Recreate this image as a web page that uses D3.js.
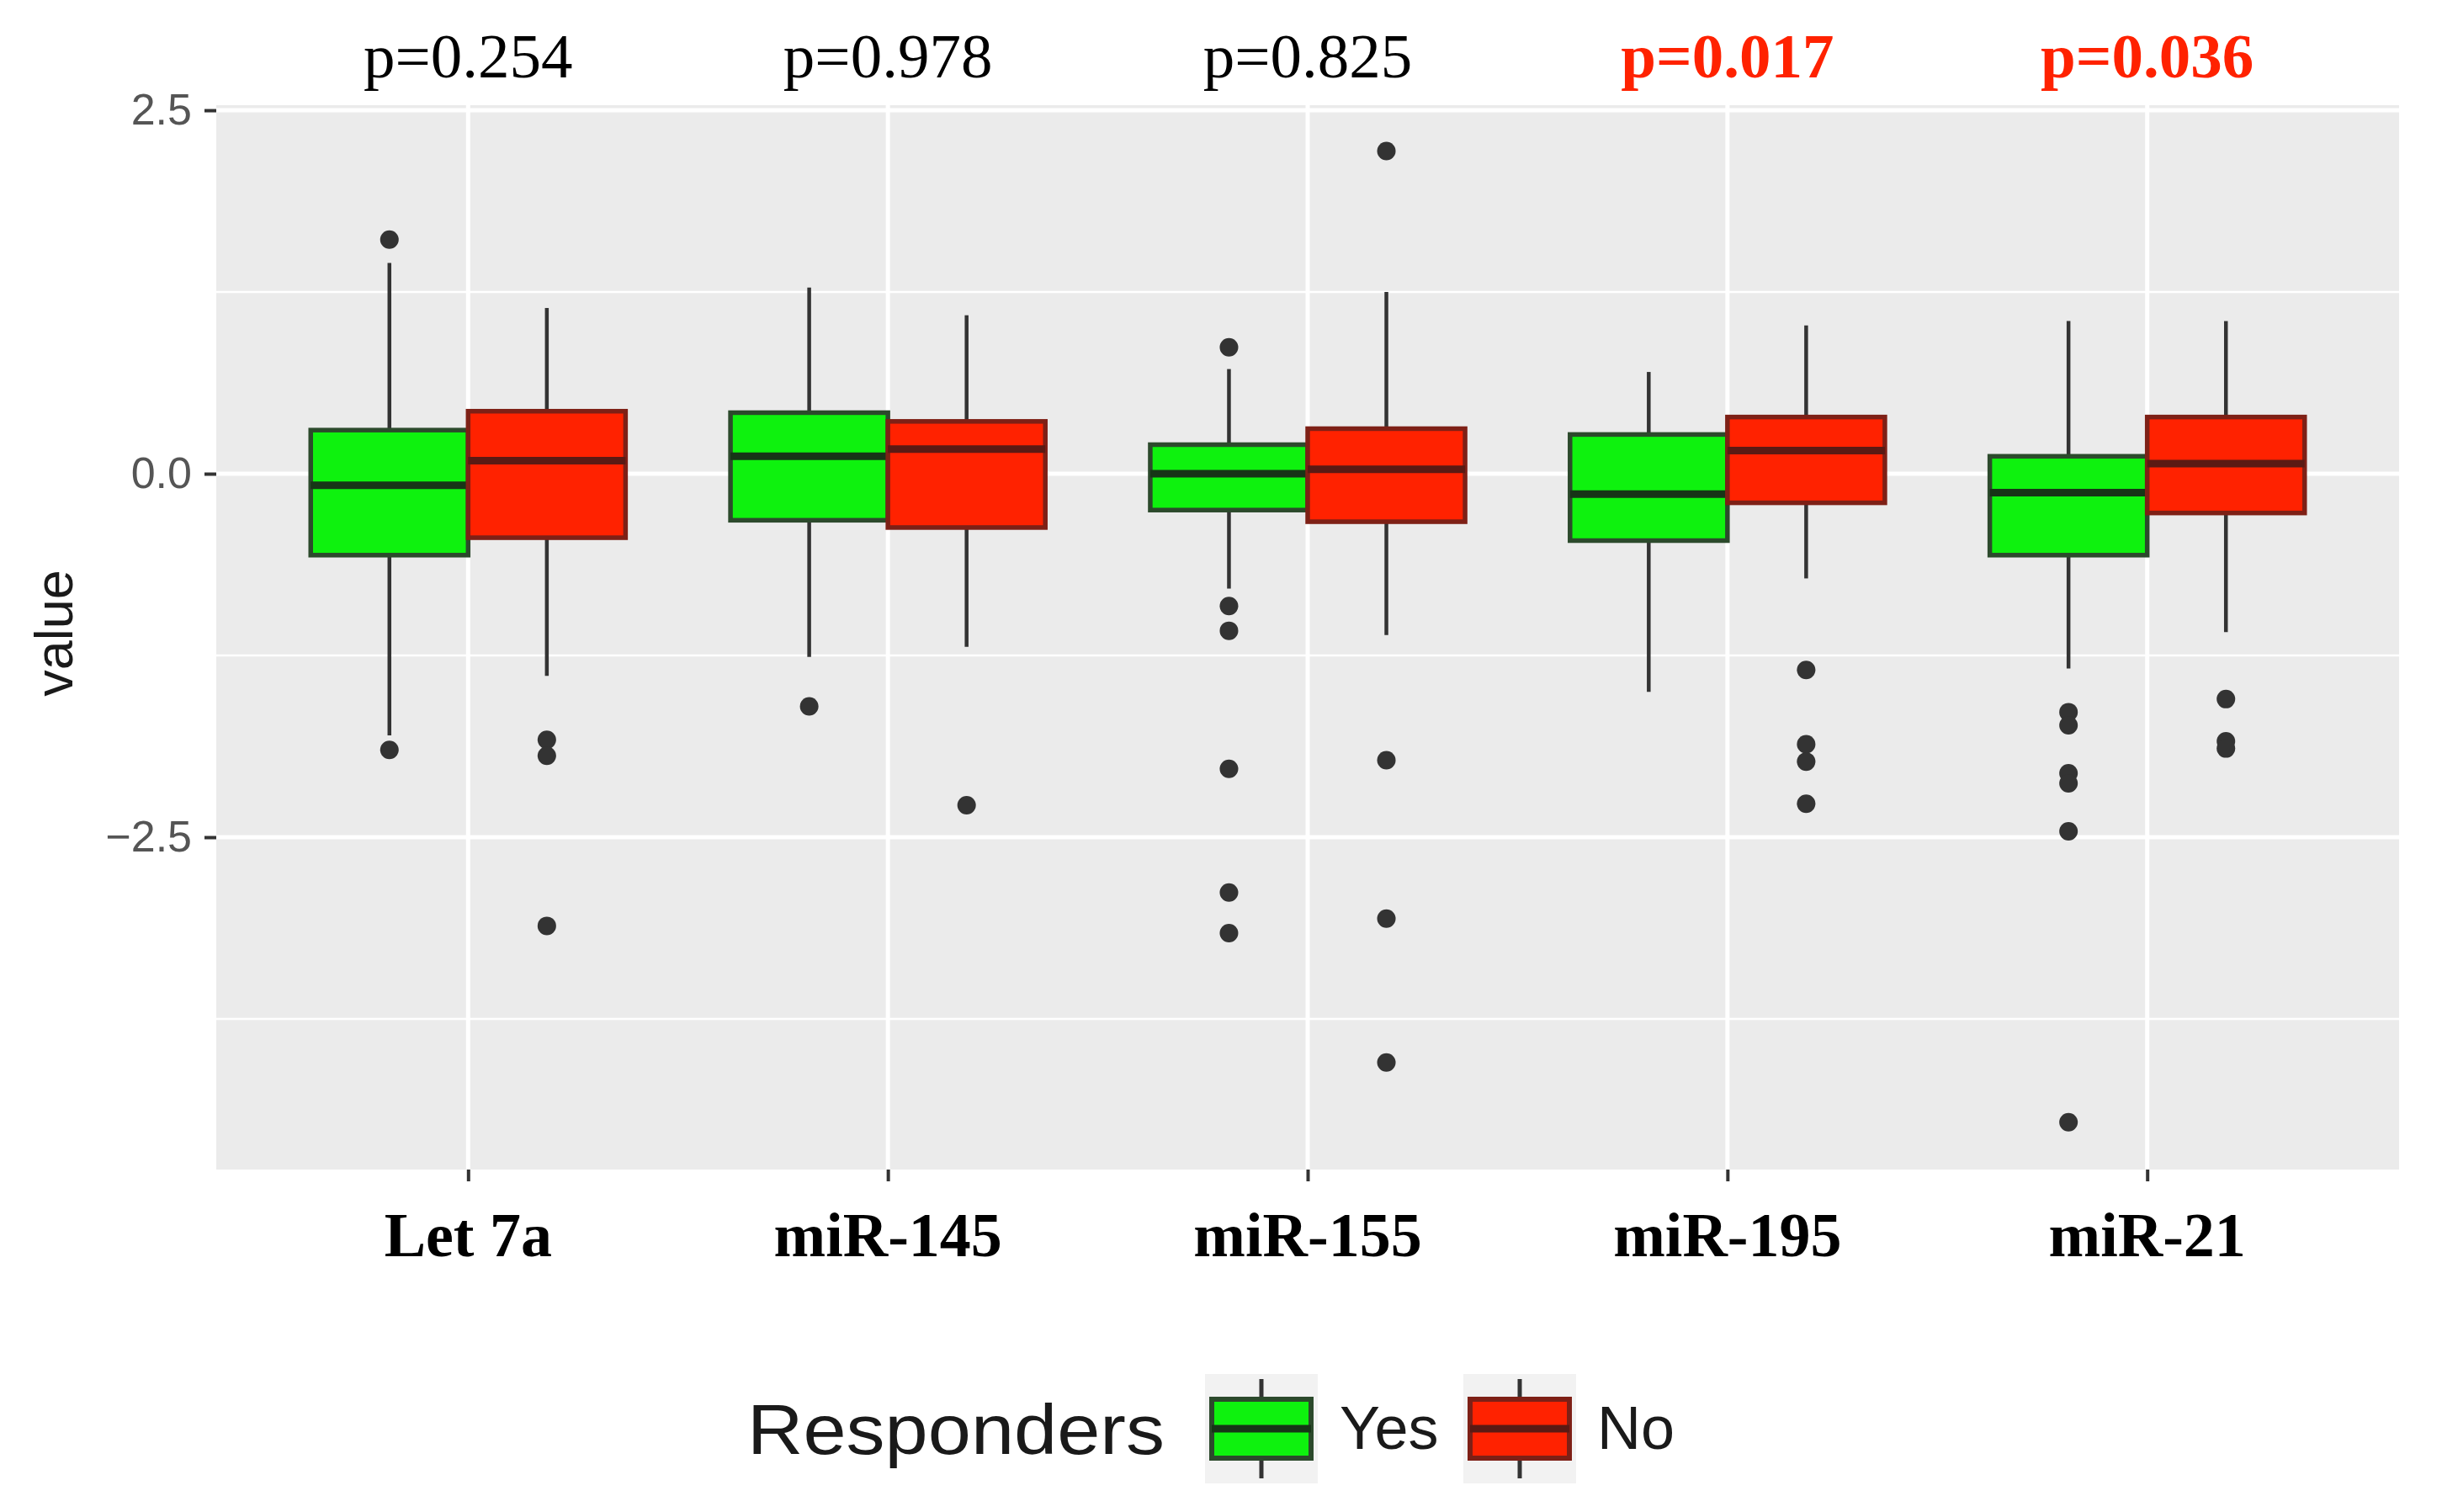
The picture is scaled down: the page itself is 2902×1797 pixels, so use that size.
<!DOCTYPE html>
<html>
<head>
<meta charset="utf-8">
<script src="https://cdn.jsdelivr.net/npm/d3@7"></script>
<style>
  body { margin: 0; background: #fff; }
  svg { display: block; }
</style>
</head>
<body>
<div id="chart"></div>
<script>
// miRNA groups and the p-value printed over each
const genes = ['Let 7a', 'miR-145', 'miR-155', 'miR-195', 'miR-21'];
const pValues = ['p=0.254', 'p=0.978', 'p=0.825', 'p=0.017', 'p=0.036'];
const pSignificant = [false, false, false, true, true];

const groups = ['Yes', 'No'];

// box stats per gene: [lower whisker, q1, median, q3, upper whisker]
const yesStats = [
    [-1.80, -0.56, -0.08, 0.30, 1.45],
    [-1.26, -0.32, 0.12, 0.42, 1.28],
    [-0.79, -0.25, 0.00, 0.20, 0.72],
    [-1.50, -0.46, -0.14, 0.27, 0.70],
    [-1.34, -0.56, -0.13, 0.12, 1.05]
];
const noStats = [
    [-1.39, -0.44, 0.09, 0.43, 1.14],
    [-1.19, -0.37, 0.17, 0.36, 1.09],
    [-1.11, -0.33, 0.03, 0.31, 1.25],
    [-0.72, -0.20, 0.16, 0.39, 1.02],
    [-1.09, -0.27, 0.07, 0.39, 1.05]
];
const yesOutliers = [
    [1.61, -1.90],
    [-1.60],
    [0.87, -0.91, -1.08, -2.03, -2.88, -3.16],
    [],
    [-1.64, -1.73, -2.06, -2.13, -2.46, -4.46]
];
const noOutliers = [
    [-1.83, -1.94, -3.11],
    [-2.28],
    [2.22, -1.97, -3.06, -4.05],
    [-1.35, -1.86, -1.98, -2.27],
    [-1.55, -1.84, -1.89]
];

const yTicks = [-2.5, 0, 2.5];
const yMinor = [-3.75, -1.25, 1.25];

const width = 2902, height = 1797;
const panel = {left: 257, right: 2851, top: 125, bottom: 1390};

const fills = {Yes: '#0ef20e', No: '#ff2200'};
const strokes = {Yes: '#2c4a2c', No: '#7e2016'};
const medians = {Yes: '#173517', No: '#5a1a14'};

const svg = d3.select('#chart').append('svg')
    .attr('width', width)
    .attr('height', height);

const xScale = d3.scalePoint()
    .domain(genes)
    .range([panel.left, panel.right])
    .padding(0.6);

const dodge = d3.scaleBand()
    .domain(groups)
    .range([-xScale.step() * 0.375, xScale.step() * 0.375]);

const yScale = d3.scaleLinear()
    .domain([-4.786, 2.535])
    .range([panel.bottom, panel.top]);

// panel background + grid
svg.append('rect')
    .attr('x', panel.left).attr('y', panel.top)
    .attr('width', panel.right - panel.left)
    .attr('height', panel.bottom - panel.top)
    .attr('fill', '#ebebeb');

svg.append('g').selectAll('line')
    .data(yMinor)
    .join('line')
    .attr('x1', panel.left).attr('x2', panel.right)
    .attr('y1', d => yScale(d)).attr('y2', d => yScale(d))
    .attr('stroke', '#fff').attr('stroke-width', 2.5);

svg.append('g').selectAll('line')
    .data(yTicks)
    .join('line')
    .attr('x1', panel.left).attr('x2', panel.right)
    .attr('y1', d => yScale(d)).attr('y2', d => yScale(d))
    .attr('stroke', '#fff').attr('stroke-width', 5);

svg.append('g').selectAll('line')
    .data(genes)
    .join('line')
    .attr('x1', d => xScale(d)).attr('x2', d => xScale(d))
    .attr('y1', panel.top).attr('y2', panel.bottom)
    .attr('stroke', '#fff').attr('stroke-width', 5);

// axes
let yAxis = svg.append('g')
    .attr('transform', `translate(${panel.left},0)`)
    .call(d3.axisLeft(yScale).tickValues(yTicks).tickSize(14).tickPadding(15));
yAxis.select('.domain').remove();
yAxis.selectAll('line').attr('stroke', '#333').attr('stroke-width', 4);
yAxis.selectAll('text')
    .attr('fill', '#555')
    .style('font-family', '"Liberation Sans", Arial, sans-serif')
    .style('font-size', '52px')
    .text(d => d3.format('.1f')(d).replace('-', '\u2212'));

let xAxis = svg.append('g')
    .attr('transform', `translate(0,${panel.bottom})`)
    .call(d3.axisBottom(xScale).tickSize(14).tickFormat(''));
xAxis.select('.domain').remove();
xAxis.selectAll('line').attr('stroke', '#333').attr('stroke-width', 4);

svg.append('g').selectAll('text')
    .data(genes)
    .join('text')
    .attr('x', d => xScale(d))
    .attr('y', 1493)
    .attr('text-anchor', 'middle')
    .style('font-family', '"Liberation Serif", "Times New Roman", serif')
    .style('font-weight', 'bold')
    .style('font-size', '74px')
    .attr('fill', '#000')
    .text(d => d);

// p-values above the panel
svg.append('g').selectAll('text')
    .data(genes)
    .join('text')
    .attr('x', d => xScale(d))
    .attr('y', 92)
    .attr('text-anchor', 'middle')
    .style('font-family', '"Liberation Serif", "Times New Roman", serif')
    .style('font-size', '75px')
    .style('font-weight', (d, i) => pSignificant[i] ? 'bold' : 'normal')
    .attr('fill', (d, i) => pSignificant[i] ? '#ff2200' : '#000')
    .text((d, i) => pValues[i]);

// y title
svg.append('text')
    .attr('transform', `translate(86,${(panel.top + panel.bottom) / 2 - 5}) rotate(-90)`)
    .attr('text-anchor', 'middle')
    .style('font-family', '"Liberation Sans", Arial, sans-serif')
    .style('font-size', '63px')
    .attr('fill', '#1a1a1a')
    .text('value');

// boxes
let boxData = [];
genes.forEach((g, i) => {
    boxData.push({gene: g, group: 'Yes', s: yesStats[i], out: yesOutliers[i]});
    boxData.push({gene: g, group: 'No', s: noStats[i], out: noOutliers[i]});
});

let boxG = svg.append('g').selectAll('g')
    .data(boxData)
    .join('g')
    .attr('transform', d => `translate(${xScale(d.gene) + dodge(d.group)},0)`);

let bw = dodge.bandwidth();

boxG.append('line')
    .attr('x1', bw / 2).attr('x2', bw / 2)
    .attr('y1', d => yScale(d.s[0])).attr('y2', d => yScale(d.s[1]))
    .attr('stroke', '#333').attr('stroke-width', 4.5);

boxG.append('line')
    .attr('x1', bw / 2).attr('x2', bw / 2)
    .attr('y1', d => yScale(d.s[3])).attr('y2', d => yScale(d.s[4]))
    .attr('stroke', '#333').attr('stroke-width', 4.5);

boxG.append('rect')
    .attr('x', 0).attr('width', bw)
    .attr('y', d => yScale(d.s[3]))
    .attr('height', d => yScale(d.s[1]) - yScale(d.s[3]))
    .attr('fill', d => fills[d.group])
    .attr('stroke', d => strokes[d.group])
    .attr('stroke-width', 5.5);

boxG.append('line')
    .attr('x1', 0).attr('x2', bw)
    .attr('y1', d => yScale(d.s[2])).attr('y2', d => yScale(d.s[2]))
    .attr('stroke', d => medians[d.group]).attr('stroke-width', 9);

boxG.selectAll('circle')
    .data(d => d.out)
    .join('circle')
    .attr('cx', bw / 2)
    .attr('cy', d => yScale(d))
    .attr('r', 11)
    .attr('fill', '#333');

// legend
const legendY = 1698;
let legend = svg.append('g');

legend.append('text')
    .attr('x', 888).attr('y', legendY + 30)
    .attr('textLength', 496).attr('lengthAdjust', 'spacingAndGlyphs')
    .style('font-family', '"Liberation Sans", Arial, sans-serif')
    .style('font-size', '84px')
    .attr('fill', '#1a1a1a')
    .text('Responders');

const keyX = {Yes: 1499, No: 1806};
const labelX = {Yes: 1592, No: 1898};

let keys = legend.selectAll('g.key')
    .data(groups)
    .join('g')
    .attr('class', 'key')
    .attr('transform', d => `translate(${keyX[d]},${legendY})`);

keys.append('rect')
    .attr('x', -67).attr('y', -65).attr('width', 134).attr('height', 130)
    .attr('fill', '#f2f2f2');
keys.append('line')
    .attr('y1', -59).attr('y2', 59)
    .attr('stroke', '#333').attr('stroke-width', 5);
keys.append('rect')
    .attr('x', -59).attr('y', -35).attr('width', 118).attr('height', 70)
    .attr('fill', d => fills[d])
    .attr('stroke', d => strokes[d]).attr('stroke-width', 6);
keys.append('line')
    .attr('x1', -59).attr('x2', 59)
    .attr('stroke', d => medians[d]).attr('stroke-width', 9);

legend.selectAll('text.lab')
    .data(groups)
    .join('text')
    .attr('class', 'lab')
    .attr('x', d => labelX[d])
    .attr('y', legendY + 24)
    .style('font-family', '"Liberation Sans", Arial, sans-serif')
    .style('font-size', '72px')
    .attr('fill', '#1a1a1a')
    .text(d => d);
</script>
</body>
</html>
